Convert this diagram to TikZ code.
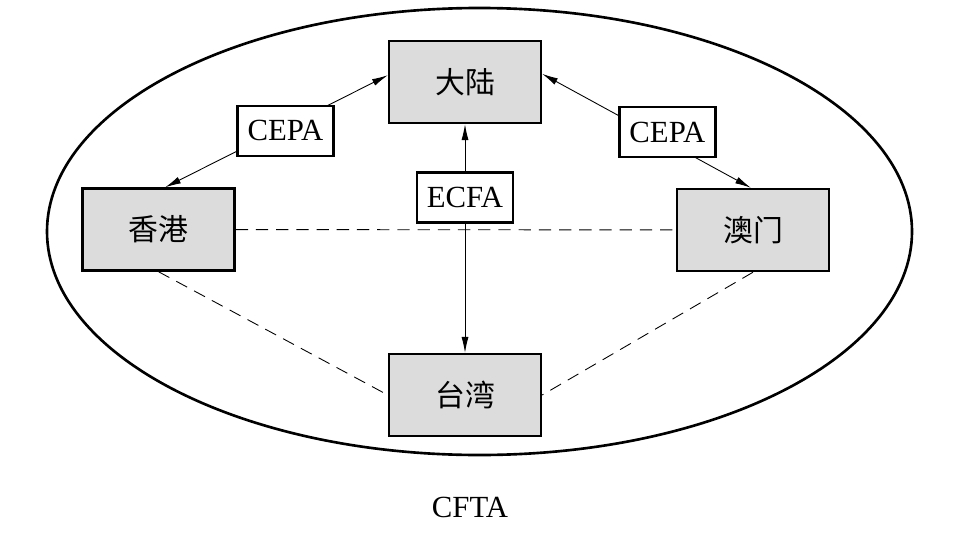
\documentclass[tikz,border=0pt]{standalone}
\usepackage{xcolor}
\usepackage{fontspec}
\setmainfont{Liberation Serif}
\newfontfamily\cjk{Noto Sans CJK SC}
\usepackage{tikz}
\usetikzlibrary{arrows.meta,positioning}
\definecolor{boxgray}{RGB}{220,220,220}

\begin{document}
\begin{tikzpicture}[x=0.02cm, y=-0.02cm,
  region/.style={rectangle, draw, line width=1.4pt, fill=boxgray, minimum width=3.04cm, minimum height=1.64cm, font=\cjk\fontsize{17}{20}\selectfont},
  pact/.style={rectangle, draw, fill=white, line width=1.3pt, minimum width=1.92cm, minimum height=1.0cm, inner sep=0pt, font=\fontsize{17.5}{20}\selectfont},
  link/.style={{Latex[length=9pt,width=4pt]}-{Latex[length=9pt,width=4pt]}, line width=0.5pt},
  tie/.style={line width=0.5pt, dash pattern=on 7pt off 4.5pt}
]
\useasboundingbox (0,0) rectangle (969,537);

% CFTA area
\draw[line width=1.5pt] (479.5,231.5) ellipse [x radius=432.5, y radius=223.5];
\node[font=\fontsize{17.5}{20}\selectfont] (cfta) at (470,507) {CFTA};

% regions
\node[region] (dl) at (465,82) {大陆};
\node[region] (xg) at (158.5,229.5) {香港};
\node[region] (am) at (753,230) {澳门};
\node[region] (tw) at (465,395) {台湾};

% dashed ties
\draw[tie] (xg) -- (am);
\draw[tie] (xg.south) -- (tw.west);
\draw[tie] (am.south) -- (tw.east);

% agreements
\draw[link] (xg.81) -- (dl.175) node[pact, pos=0.54, yshift=-0.08cm] (cepa1) {CEPA};
\draw[link] (dl.6) -- (am.93) node[pact, pos=0.6, yshift=0.2cm] (cepa2) {CEPA};
\draw[link] (dl) -- (tw) node[pact, pos=0.32] (ecfa) {ECFA};
\end{tikzpicture}
\end{document}
